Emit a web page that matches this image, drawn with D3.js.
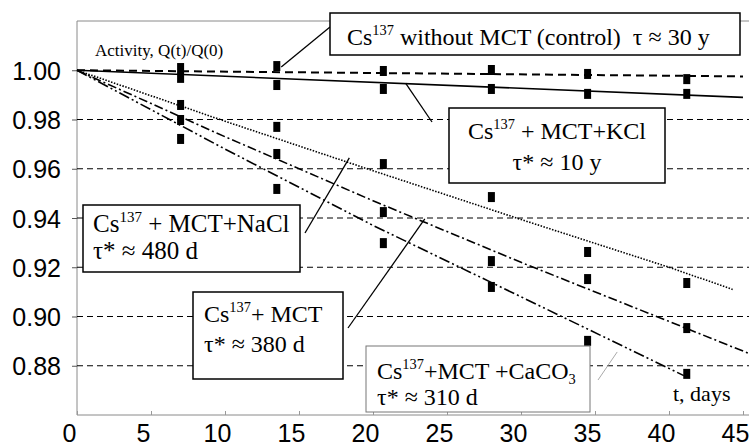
<!DOCTYPE html>
<html lang="en">
<head>
  <meta charset="UTF-8">
  <title>Cs137 activity</title>
  <script src="https://d3js.org/d3.v7.min.js"></script>
  <style>
    body { margin: 0; background: #fff; }
    .tick-label { font-family: "Liberation Sans", Arial, sans-serif; font-size: 25px; fill: #000; }
    .note { font-family: "Liberation Serif", "Times New Roman", serif; fill: #000; }
  </style>
</head>
<body>
<svg width="749" height="446"></svg>

<script>
  // measurement days and the five series
  const days = [7, 13.5, 20.7, 28, 34.5, 41.2];
  const control = [1.0009, 1.0017, 0.9997, 1.0001, 0.9985, 0.9964];
  const kcl = [0.9969, 0.9940, 0.9924, 0.9924, 0.9904, 0.9904];
  const nacl = [0.9859, 0.9770, 0.9619, 0.9485, 0.9262, 0.9136];
  const mct = [0.9798, 0.9660, 0.9424, 0.9225, 0.9152, 0.8953];
  const caco3 = [0.9721, 0.9518, 0.9298, 0.9120, 0.8901, 0.8767];

  // fitted curves
  const fitControlT = [0, 45], fitControl = [1.0, 0.9975];
  const fitKclT = [0, 45], fitKcl = [1.0, 0.989];
  const fitNaclT = [0, 10, 20, 30, 40, 44.3], fitNacl = [1.0, 0.9793, 0.9592, 0.9394, 0.920, 0.911];
  const fitMctT = [0, 10, 20, 30, 40, 45.4], fitMct = [1.0, 0.973, 0.947, 0.922, 0.898, 0.885];
  const fitCaco3T = [0, 10, 20, 30, 41], fitCaco3 = [1.0, 0.968, 0.937, 0.908, 0.876];

  const xTicks = [0, 5, 10, 15, 20, 25, 30, 35, 40, 45];
  const yTicks = [0.88, 0.90, 0.92, 0.94, 0.96, 0.98, 1.00];
  const gridValues = [0.88, 0.90, 0.92, 0.94, 0.96, 0.98];

  const svg = d3.select("svg");
  const mLeft = 77, mRight = 749, mTop = 21, mBottom = 415;

  const x = d3.scaleLinear().domain([0, 45]).range([mLeft, 743]);
  const y = d3.scaleLinear().domain([0.86, 1.02]).range([mBottom, mTop]);

  // frame
  svg.append("path")
    .attr("d", `M${mRight},${mTop}H${mLeft}V${mBottom}H${mRight}`)
    .attr("fill", "none")
    .attr("stroke", "#8a8a8a")
    .attr("stroke-width", 1);

  // y axis ticks + labels
  const yAxis = svg.append("g")
    .attr("transform", `translate(${mLeft},0)`)
    .call(d3.axisLeft(y).tickValues(yTicks).tickFormat(d3.format(".2f")).tickSize(5).tickPadding(11));
  yAxis.select(".domain").remove();
  yAxis.selectAll(".tick line").attr("stroke", "#555");
  yAxis.selectAll(".tick text").attr("class", "tick-label").attr("dy", "0.36em");

  // x axis ticks + labels
  const xAxis = svg.append("g")
    .attr("transform", `translate(0,${mBottom})`)
    .call(d3.axisBottom(x).tickValues(xTicks).tickSize(-4).tickPadding(10));
  xAxis.select(".domain").remove();
  xAxis.selectAll(".tick line").attr("stroke", "#999");
  xAxis.selectAll(".tick text").attr("class", "tick-label").attr("dx", "-8").attr("y", 9).attr("dy", "0.71em");

  // grid
  svg.append("g").selectAll("line")
    .data(gridValues)
    .join("line")
    .attr("x1", mLeft).attr("x2", mRight)
    .attr("y1", d => y(d)).attr("y2", d => y(d))
    .attr("stroke", "#000")
    .attr("stroke-width", 1)
    .attr("stroke-dasharray", "6,4");

  // fitted lines
  const line = d3.line().x(d => x(d[0])).y(d => y(d[1]));
  const fits = [
    { t: fitControlT, v: fitControl, dash: "8,5", w: 2 },
    { t: fitKclT, v: fitKcl, dash: null, w: 1.6 },
    { t: fitNaclT, v: fitNacl, dash: "1.5,1.5", w: 1.6 },
    { t: fitMctT, v: fitMct, dash: "9,3,2,3", w: 1.6 },
    { t: fitCaco3T, v: fitCaco3, dash: "11,3,2,3,2,3", w: 1.6 }
  ];
  svg.append("g").selectAll("path")
    .data(fits)
    .join("path")
    .attr("d", f => line(f.t.map((t, i) => [t, f.v[i]])))
    .attr("fill", "none")
    .attr("stroke", "#000")
    .attr("stroke-width", f => f.w)
    .attr("stroke-dasharray", f => f.dash);

  // data points
  const series = [control, kcl, nacl, mct, caco3];
  const pts = series.flatMap(s => s.map((v, i) => [days[i], v]));
  svg.append("g").selectAll("rect")
    .data(pts)
    .join("rect")
    .attr("x", d => x(d[0]) - 3.5)
    .attr("y", d => y(d[1]) - 5)
    .attr("width", 7)
    .attr("height", 10)
    .attr("fill", "#000");

  // annotation boxes: pointer target is in data units
  const notes = [
    { box: [330, 13, 410, 42], lines: [["Cs", "137", " without MCT (control)\u00a0\u00a0τ ≈ 30 y"]], tx: 347, ty: [45], size: 24,
      from: [330, 27], to: [13.8, 1.0013] },
    { box: [449, 108, 216, 75], lines: [["Cs", "137", " + MCT+KCl"], ["", "", "τ* ≈ 10 y"]], tx: 557, ty: [139, 170], size: 24, anchor: "middle",
      from: [432, 122], to: [22.2, 0.9948] },
    { box: [83, 205, 217, 67], lines: [["Cs", "137", " + MCT+NaCl"], ["", "", "τ* ≈ 480 d"]], tx: 93, ty: [232, 259], size: 25,
      from: [305, 233], to: [18.4, 0.9644] },
    { box: [193, 292, 150, 87], lines: [["Cs", "137", "+ MCT"], ["", "", "τ* ≈ 380 d"]], tx: 204, ty: [322, 352], size: 24,
      from: [348, 328], to: [23.5, 0.9396] },
    { box: [366, 346, 224, 66], lines: [["Cs", "137", "+MCT +CaCO"], ["", "", "τ* ≈ 310 d"]], tx: 377, ty: [379, 405], size: 24, thin: true,
      from: [598, 380], to: [36.5, 0.8856] }
  ];

  notes.forEach(n => {
    svg.append("line")
      .attr("x1", n.from[0]).attr("y1", n.from[1])
      .attr("x2", x(n.to[0])).attr("y2", y(n.to[1]))
      .attr("stroke", n.thin ? "#aaa" : "#000")
      .attr("stroke-width", n.thin ? 1 : 1.3);
    svg.append("rect")
      .attr("x", n.box[0]).attr("y", n.box[1])
      .attr("width", n.box[2]).attr("height", n.box[3])
      .attr("fill", "#fff")
      .attr("stroke", n.thin ? "#777" : "#000")
      .attr("stroke-width", n.thin ? 1 : 1.5);
    n.lines.forEach((l, i) => {
      const t = svg.append("text")
        .attr("class", "note")
        .attr("x", n.tx).attr("y", n.ty[i])
        .attr("font-size", n.size)
        .attr("text-anchor", n.anchor || "start");
      if (l[0]) {
        t.append("tspan").text(l[0]);
        t.append("tspan").attr("dy", -n.size * 0.42).attr("font-size", n.size * 0.6).text(l[1]);
        t.append("tspan").attr("dy", n.size * 0.42).text(l[2]);
      } else {
        t.append("tspan").text(l[2]);
      }
      if (n.thin && i === 0) {
        t.append("tspan").attr("dy", n.size * 0.2).attr("font-size", n.size * 0.6).text("3");
      }
    });
  });

  svg.append("text")
    .attr("class", "note")
    .attr("x", 95).attr("y", 56)
    .attr("font-size", 17)
    .text("Activity, Q(t)/Q(0)");

  svg.append("text")
    .attr("class", "note")
    .attr("x", 673).attr("y", 401)
    .attr("font-size", 22)
    .text("t, days");
</script>
</body>
</html>
